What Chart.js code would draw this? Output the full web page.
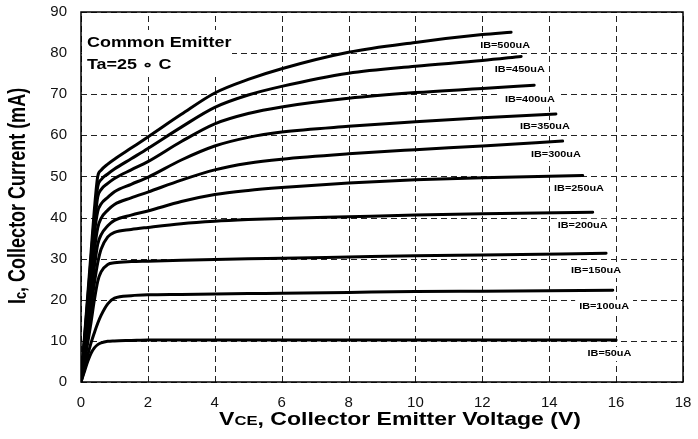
<!DOCTYPE html>
<html>
<head>
<meta charset="utf-8">
<script src="https://cdn.jsdelivr.net/npm/chart.js@4.4.0/dist/chart.umd.min.js"></script>
<style>
  body { margin: 0; background: #fff; }
  #chart { display: block; }
</style>
</head>
<body>
<canvas id="chart" width="698" height="439"></canvas>
<script>
// Ic vs Vce output characteristics
const vceGrid = [0, 0.1, 0.2, 0.3, 0.4, 0.5, 0.6, 0.8, 1, 1.5, 2, 3, 4, 5, 6, 8, 10, 12];

const ic50  = [0, 2.5, 5, 7, 8.3, 9.1, 9.5, 9.9, 10.0, 10.1, 10.2, 10.2, 10.2, 10.2, 10.2, 10.2, 10.2, 10.2];
const ic100 = [0, 3, 6.5, 9.5, 12, 14.3, 16.2, 19, 20.4, 21.0, 21.2, 21.3, 21.4, 21.5, 21.6, 21.8, 22.0, 22.1];
const ic150 = [0, 4.5, 9.5, 14.5, 20, 24.5, 26.8, 28.6, 29.0, 29.3, 29.4, 29.6, 29.8, 30.0, 30.1, 30.4, 30.7, 30.9];
const ic200 = [0, 6, 12, 18, 24, 29, 32.3, 35.3, 36.4, 37.1, 37.6, 38.5, 39.1, 39.5, 39.8, 40.2, 40.6, 40.9];
const ic250 = [0, 7, 14, 21, 28, 33.5, 35.8, 38.0, 39.3, 40.6, 41.6, 43.9, 45.6, 46.6, 47.3, 48.4, 49.2, 49.7];
const ic300 = [0, 8, 16, 24, 32, 37.5, 39.8, 41.8, 43.2, 44.8, 46.2, 49.1, 51.6, 53.2, 54.2, 55.5, 56.5, 57.4];
const ic350 = [0, 9, 18, 27, 36, 41.5, 43.3, 44.9, 46.3, 48.1, 49.8, 54.0, 57.4, 59.5, 60.8, 62.2, 63.3, 64.3];
const ic400 = [0, 9.5, 19, 28.5, 38, 45, 46.8, 48.3, 49.5, 51.6, 53.6, 58.5, 62.8, 65.3, 66.9, 69.0, 70.4, 71.4];
const ic450 = [0, 10, 20, 30, 40, 47.5, 49.2, 50.6, 51.8, 54.3, 56.8, 62.0, 66.8, 69.8, 71.9, 75.1, 76.8, 78.2];
const ic500 = [0, 10.5, 21, 31.5, 42, 50, 51.5, 53, 54.2, 56.9, 59.6, 65.1, 70.3, 73.6, 76.2, 80.2, 82.6, 84.5];

// last point of each curve (curves stop at different Vce)
const vceEnd = [16.0, 15.9, 15.7, 15.3, 15.0, 14.4, 14.2, 13.55, 13.16, 12.86];
const icEnd  = [10.2, 22.3, 31.3, 41.3, 50.2, 58.6, 65.2, 72.2, 79.2, 85.1];

// curve labels and where they sit
const ibLabels = ['IB=50uA', 'IB=100uA', 'IB=150uA', 'IB=200uA', 'IB=250uA',
                  'IB=300uA', 'IB=350uA', 'IB=400uA', 'IB=450uA', 'IB=500uA'];
const labelVce = [15.8, 15.64, 15.4, 15.0, 14.89, 14.2, 13.87, 13.42, 13.12, 12.68];
const labelIc  = [6.8, 18.3, 27, 38, 47.1, 55.4, 62, 68.7, 75.9, 81.9];

const xTicks = [0, 2, 4, 6, 8, 10, 12, 14, 16, 18];
const yTicks = [0, 10, 20, 30, 40, 50, 60, 70, 80, 90];

const FONT = '"Liberation Sans", Arial, sans-serif';
const SX = 1.28; // the original figure is stretched sideways

const curves = [ic50, ic100, ic150, ic200, ic250, ic300, ic350, ic400, ic450, ic500];

const datasets = curves.map(function (ic, k) {
	const pts = vceGrid.map(function (v, i) { return { x: v, y: ic[i] }; });
	pts.push({ x: vceEnd[k], y: icEnd[k] });
	return {
		label: ibLabels[k],
		data: pts,
		borderColor: '#000',
		borderWidth: 3,
		borderCapStyle: 'round',
		pointRadius: 0,
		fill: false,
		cubicInterpolationMode: 'monotone'
	};
});

function wideText(ctx, str, x, y, font, align) {
	ctx.save();
	ctx.font = font;
	ctx.translate(x, y);
	ctx.scale(SX, 1);
	ctx.textAlign = align || 'left';
	ctx.textBaseline = 'middle';
	ctx.fillText(str, 0, 0);
	ctx.restore();
}

function wideWidth(ctx, str, font) {
	ctx.save();
	ctx.font = font;
	const w = ctx.measureText(str).width * SX;
	ctx.restore();
	return w;
}

// dashed grid, white boxes + labels: over the grid but under the curves
const labelsPlugin = {
	id: 'labels',
	beforeDatasetsDraw: function (chart) {
		const ctx = chart.ctx;
		const xs = chart.scales.x, ys = chart.scales.y;
		const area = chart.chartArea;
		const lf = 'bold 8.5px ' + FONT;

		ctx.save();
		ctx.strokeStyle = '#222';
		ctx.lineWidth = 1;
		ctx.setLineDash([6, 4]);
		xTicks.forEach(function (v) {
			const px = Math.round(xs.getPixelForValue(v)) + 0.5;
			ctx.beginPath();
			ctx.moveTo(px, area.bottom);
			ctx.lineTo(px, area.top);
			ctx.stroke();
		});
		yTicks.forEach(function (v) {
			const py = Math.round(ys.getPixelForValue(v)) + 0.5;
			ctx.beginPath();
			ctx.moveTo(area.left, py);
			ctx.lineTo(area.right, py);
			ctx.stroke();
		});
		ctx.restore();

		ctx.save();
		ctx.fillStyle = '#fff';
		ctx.fillRect(area.left + 1, 30, 150, 47);
		ctx.restore();
		ctx.fillStyle = '#000';
		wideText(ctx, 'Common Emitter', area.left + 6, 43, 'bold 14px ' + FONT);
		wideText(ctx, 'Ta=25 \u2218 C', area.left + 6, 65, 'bold 14px ' + FONT);

		for (let k = 0; k < ibLabels.length; k++) {
			const cx = xs.getPixelForValue(labelVce[k]);
			const cy = ys.getPixelForValue(labelIc[k]);
			const w = wideWidth(ctx, ibLabels[k], lf);
			ctx.fillStyle = '#fff';
			ctx.fillRect(cx - w / 2 - 4, cy - 7, w + 8, 14);
			ctx.fillStyle = '#000';
			wideText(ctx, ibLabels[k], cx, cy, lf, 'center');
		}
	},
	afterDraw: function (chart) {
		const ctx = chart.ctx;
		const area = chart.chartArea;

		// frame
		ctx.save();
		ctx.strokeStyle = '#000';
		ctx.lineWidth = 1.5;
		ctx.strokeRect(area.left, area.top, area.right - area.left, area.bottom - area.top);
		ctx.restore();

		// x axis title with small CE
		const big = 'bold 18px ' + FONT;
		const small = 'bold 13px ' + FONT;
		const parts = [['V', big], ['CE', small], [', Collector Emitter Voltage (V)', big]];
		let total = 0;
		parts.forEach(function (p) { total += wideWidth(ctx, p[0], p[1]); });
		let x = 400 - total / 2;
		ctx.fillStyle = '#000';
		parts.forEach(function (p) {
			const dy = p[1] === small ? 1.5 : 0;
			wideText(ctx, p[0], x, 420 + dy, p[1]);
			x += wideWidth(ctx, p[0], p[1]);
		});

		// y axis title, rotated
		ctx.save();
		ctx.translate(19, 196);
		ctx.scale(SX, 1);
		ctx.rotate(-Math.PI / 2);
		ctx.textBaseline = 'middle';
		const t1 = 'I', t2 = 'c', t3 = ', Collector Current (mA)';
		ctx.font = big; const w1 = ctx.measureText(t1).width;
		ctx.font = small; const w2 = ctx.measureText(t2).width;
		ctx.font = big; const w3 = ctx.measureText(t3).width;
		let p = -(w1 + w2 + w3) / 2;
		ctx.textAlign = 'left';
		ctx.font = big; ctx.fillText(t1, p, 0); p += w1;
		ctx.font = small; ctx.fillText(t2, p, 2); p += w2;
		ctx.font = big; ctx.fillText(t3, p, 0);
		ctx.restore();
	}
};

new Chart(document.getElementById('chart'), {
	type: 'line',
	data: { datasets: datasets },
	options: {
		responsive: false,
		animation: false,
		devicePixelRatio: 1,
		layout: { padding: { left: 0, right: 15, top: 12, bottom: 0 } },
		plugins: {
			legend: { display: false },
			tooltip: { enabled: false }
		},
		scales: {
			x: {
				type: 'linear',
				min: 0,
				max: 18,
				afterFit: function (s) { s.height = 57; s.paddingRight = 0; s.paddingLeft = 0; },
				afterBuildTicks: function (s) { s.ticks = xTicks.map(function (v) { return { value: v }; }); },
				grid: { display: false, drawTicks: false },
				border: { display: false },
				ticks: { padding: 12, color: '#111', font: { family: FONT, size: 15 } }
			},
			y: {
				min: 0,
				max: 90,
				afterFit: function (s) { s.width = 81; s.paddingTop = 0; s.paddingBottom = 0; },
				afterBuildTicks: function (s) { s.ticks = yTicks.map(function (v) { return { value: v }; }); },
				grid: { display: false, drawTicks: false },
				border: { display: false },
				ticks: { padding: 14, color: '#111', font: { family: FONT, size: 15 } }
			}
		}
	},
	plugins: [labelsPlugin]
});
</script>
</body>
</html>
